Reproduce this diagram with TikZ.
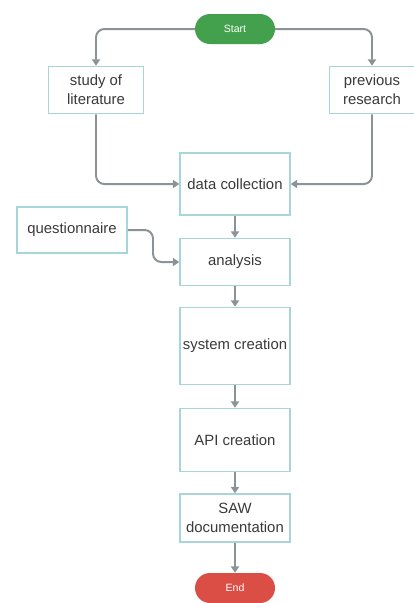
\documentclass[tikz,border=0pt]{standalone}
\usepackage{fontspec}
\setmainfont{Liberation Sans}
\usepackage{xcolor}
\usetikzlibrary{arrows.meta}

\definecolor{boxline}{HTML}{A6D6DA}
\definecolor{flowgray}{HTML}{8C9396}
\definecolor{startgreen}{HTML}{43A04C}
\definecolor{endred}{HTML}{DB4E45}
\definecolor{txtgray}{HTML}{3A3A3A}

\begin{document}
\begin{tikzpicture}[x=0.03cm, y=-0.03cm,
    stepbox/.style={draw=boxline, line width=1.3pt, fill=white, inner sep=1pt,
        align=center, text=txtgray, font=\fontsize{12.7}{16}\selectfont},
    terminal/.style={rounded corners=0.45cm, inner sep=0pt, minimum width=2.4cm,
        minimum height=0.9cm, text=white, font=\fontsize{9}{11}\selectfont},
    flow/.style={draw=flowgray, line width=1.7pt, rounded corners=0.25cm,
        -{Triangle[width=7pt,length=5.5pt]}}]
    % Canvas
    \useasboundingbox (0,0) rectangle (414,603);

    % Start and end
    \node[terminal, fill=startgreen] (start) at (235,29) {Start};
    \node[terminal, fill=endred] (finish) at (235,588) {End};

    % Sources
    \node[stepbox, minimum width=2.85cm, minimum height=1.41cm] (literature) at (96,90) {study of\\literature};
    \node[stepbox, minimum width=2.55cm, minimum height=1.41cm] (previous) at (372,90) {previous\\research};
    \node[stepbox, minimum width=3.3cm, minimum height=1.38cm] (questionnaire) at (72,230) {questionnaire};

    % Main column
    \node[stepbox, minimum width=3.3cm, minimum height=1.86cm] (collection) at (235,184) {data collection};
    \node[stepbox, minimum width=3.3cm, minimum height=1.41cm] (analysis) at (235,262) {analysis};
    \node[stepbox, minimum width=3.3cm, minimum height=2.31cm] (system) at (235,346) {system creation};
    \node[stepbox, minimum width=3.3cm, minimum height=1.89cm] (api) at (235,440) {API creation};
    \node[stepbox, minimum width=3.3cm, minimum height=1.44cm] (saw) at (235,518) {SAW\\documentation};

    % Bend of the questionnaire line
    \coordinate (qbend) at (153,230);

    % Connectors
    \draw[flow] (start.west) -| (literature.north);
    \draw[flow] (start.east) -| (previous.north);
    \draw[flow] (literature.south) |- (collection.west);
    \draw[flow] (previous.south) |- (collection.east);
    \draw[flow] (questionnaire.east) -- (qbend) |- (analysis.west);
    \draw[flow] (collection) -- (analysis);
    \draw[flow] (analysis) -- (system);
    \draw[flow] (system) -- (api);
    \draw[flow] (api) -- (saw);
    \draw[flow] (saw) -- (finish);
\end{tikzpicture}
\end{document}
